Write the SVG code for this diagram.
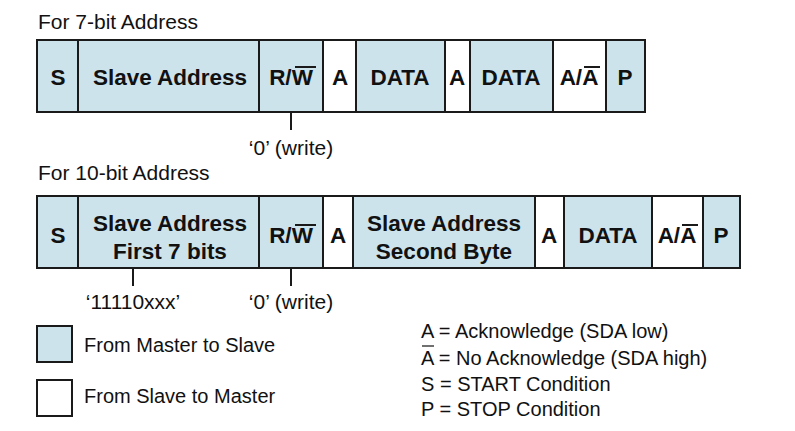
<svg xmlns="http://www.w3.org/2000/svg" width="795" height="431" viewBox="0 0 795 431">
<style>
.b{fill:#cce3ec;stroke:#1a1a1a;stroke-width:2}
.w{fill:#fff;stroke:#1a1a1a;stroke-width:2}
text{font-family:"Liberation Sans",Arial,sans-serif;fill:#111}
.c{font-weight:bold;font-size:22.5px;text-anchor:middle}
.n{font-size:21px}
.l{font-size:20px}
.ln{stroke:#1a1a1a;stroke-width:2}
</style>
<rect width="795" height="431" fill="#fff"/>
<text class="n" x="38" y="29" font-size="22">For 7-bit Address</text>
<g id="r1">
<rect class="b" x="37" y="40" width="41" height="72"/><text class="c" x="58" y="85">S</text>
<rect class="b" x="78" y="40" width="181" height="72"/><text class="c" x="170" y="85">Slave Address</text>
<rect class="b" x="259" y="40" width="64" height="72"/><text class="c" x="291" y="85">R/W</text><line class="ln" x1="295" y1="67" x2="316" y2="67" stroke-width="1.5"/>
<rect class="w" x="323" y="40" width="33" height="72"/><text class="c" x="340" y="85">A</text>
<rect class="b" x="356" y="40" width="89" height="72"/><text class="c" x="400" y="85">DATA</text>
<rect class="w" x="445" y="40" width="25" height="72"/><text class="c" x="457" y="85">A</text>
<rect class="b" x="470" y="40" width="83" height="72"/><text class="c" x="511" y="85">DATA</text>
<rect class="w" x="553" y="40" width="53" height="72"/><text class="c" x="579" y="85">A/A</text><line class="ln" x1="584" y1="67" x2="600" y2="67" stroke-width="1.5"/>
<rect class="b" x="606" y="40" width="39" height="72"/><text class="c" x="625" y="85">P</text>
</g>
<text class="n" x="38" y="180" font-size="22">For 10-bit Address</text>
<g id="r2">
<rect class="b" x="37" y="196" width="41" height="72"/><text class="c" x="58" y="243">S</text>
<rect class="b" x="78" y="196" width="181" height="72"/><text class="c" x="170" y="231">Slave Address</text><text class="c" x="170" y="259">First 7 bits</text>
<rect class="b" x="259" y="196" width="64" height="72"/><text class="c" x="291" y="243">R/W</text><line class="ln" x1="295" y1="225" x2="316" y2="225" stroke-width="1.5"/>
<rect class="w" x="323" y="196" width="30" height="72"/><text class="c" x="338" y="243">A</text>
<rect class="b" x="353" y="196" width="182" height="72"/><text class="c" x="444" y="231">Slave Address</text><text class="c" x="444" y="259">Second Byte</text>
<rect class="w" x="535" y="196" width="29" height="72"/><text class="c" x="549" y="243">A</text>
<rect class="b" x="564" y="196" width="88" height="72"/><text class="c" x="608" y="243">DATA</text>
<rect class="w" x="652" y="196" width="51" height="72"/><text class="c" x="677" y="243">A/A</text><line class="ln" x1="682" y1="225" x2="698" y2="225" stroke-width="1.5"/>
<rect class="b" x="703" y="196" width="37" height="72"/><text class="c" x="721" y="243">P</text>
</g>
<g id="connectors">
<line class="ln" x1="291" y1="112" x2="291" y2="130"/>
<line class="ln" x1="291" y1="268" x2="291" y2="286"/>
<line class="ln" x1="133" y1="268" x2="133" y2="286"/>
</g>
<text class="n" x="291" y="155" text-anchor="middle">‘0’ (write)</text>
<text class="n" x="291" y="309" text-anchor="middle">‘0’ (write)</text>
<text class="n" x="133" y="309" text-anchor="middle">‘11110xxx’</text>
<g id="legend">
<rect class="b" x="37" y="326" width="35" height="36"/><text class="l" x="84" y="352">From Master to Slave</text>
<rect class="w" x="37" y="380" width="35" height="36"/><text class="l" x="84" y="403">From Slave to Master</text>
<text class="l" x="421" y="338">A = Acknowledge (SDA low)</text>
<text class="l" x="421" y="365">A = No Acknowledge (SDA high)</text>
<line x1="422" y1="346" x2="434" y2="346" stroke="#111" stroke-width="1.2"/>
<text class="l" x="421" y="391">S = START Condition</text>
<text class="l" x="421" y="416">P = STOP Condition</text>
</g>
</svg>
